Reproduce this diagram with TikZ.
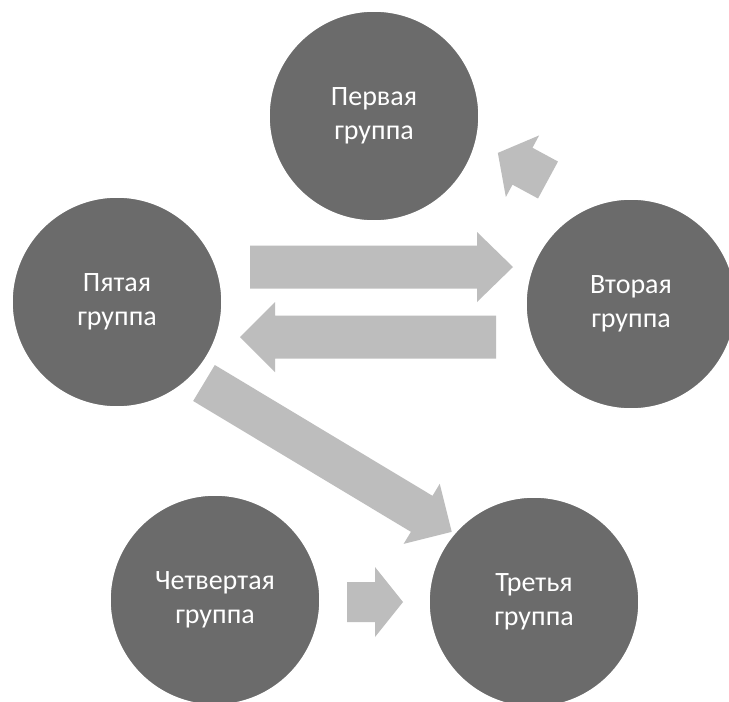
\documentclass[tikz,border=0pt]{standalone}
\usepackage{fontspec}
\setmainfont{Carlito}
\tikzset{
  grp/.style={circle, fill=circfill, draw=white, line width=1.5pt, minimum size=210pt, inner sep=0pt,
    text=white, align=center, font=\fontsize{28}{34}\selectfont},
  arrowfill/.style={fill=arrowgray}
}
\definecolor{circfill}{HTML}{6B6B6B}
\definecolor{arrowgray}{HTML}{BDBDBD}
\newcommand\blockarr[7]{%
  \begin{scope}[shift={(#1,#2)},rotate=#3]
    \fill[arrowfill] (0,-#5) -- ({#4-#7},-#5) -- ({#4-#7},-#6) -- (#4,0) -- ({#4-#7},#6) -- ({#4-#7},#5) -- (0,#5) -- cycle;
  \end{scope}}
\begin{document}
\begin{tikzpicture}[x=1pt,y=-1pt]
\useasboundingbox[fill=white] (0,0) rectangle (729,702);
% block arrows
\blockarr{250}{267}{0}{263}{21.5}{35}{36}
\blockarr{496}{337}{180}{256}{21.5}{35}{35}
\blockarr{204}{383}{-31}{289}{21}{35}{35}
\blockarr{347}{602}{0}{56}{20}{35}{28}
\blockarr{548}{180}{151.6}{57}{21}{35}{28}
% groups
\node[grp] (g1) at (374,116) {Первая\\группа};
\node[grp] (g5) at (117,302) {Пятая\\группа};
\node[grp] (g2) at (631,304) {Вторая\\группа};
\node[grp] (g4) at (215,600) {Четвертая\\группа};
\node[grp] (g3) at (534,602) {Третья\\группа};
\end{tikzpicture}
\end{document}
